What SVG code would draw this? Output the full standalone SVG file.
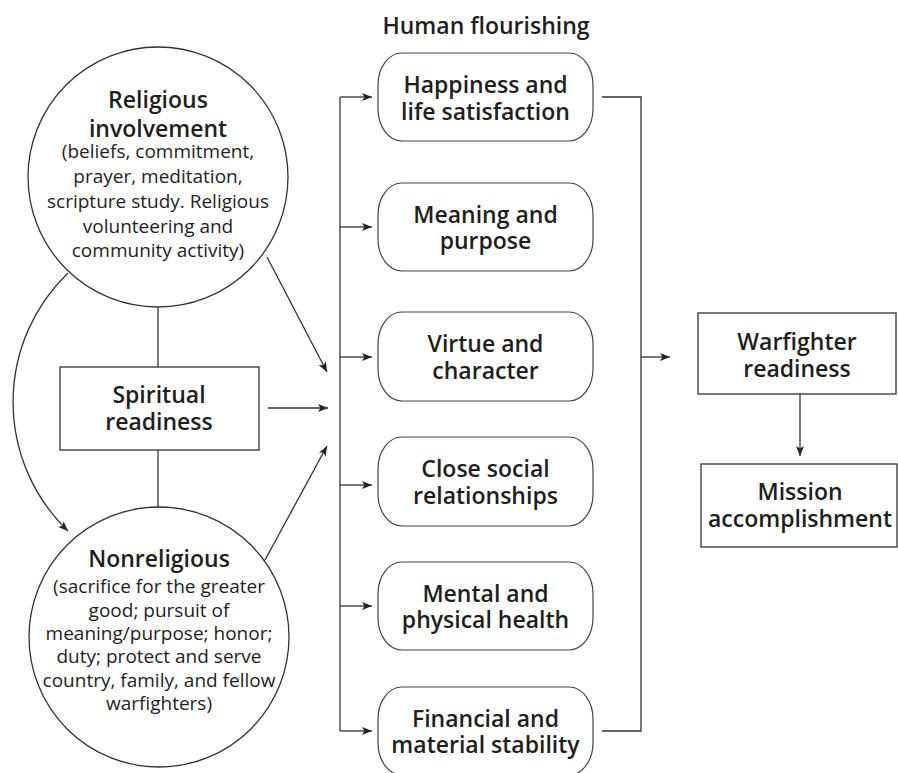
<svg xmlns="http://www.w3.org/2000/svg" width="898" height="773" viewBox="0 0 898 773">
<style>
.shape{fill:#fff;stroke:#333;stroke-width:1.3}
.pill{fill:#fff;stroke:#444;stroke-width:1.2}
.ln{fill:none;stroke:#333;stroke-width:1.3}
.arr{fill:none;stroke:#333;stroke-width:1.3;marker-end:url(#ah)}
text{font-family:"Open Sans","Noto Sans","DejaVu Sans",sans-serif;fill:#1e1e1e;text-anchor:middle}
.t{font-size:23px;font-weight:600}
.s{font-size:19px;font-weight:400}
.h{font-size:23px;font-weight:600}
</style>
<defs>
<marker id="ah" viewBox="0 0 10 8" refX="10" refY="4" markerWidth="10" markerHeight="8" markerUnits="userSpaceOnUse" orient="auto">
<path d="M0,0 L10,4 L0,8 L2.5,4 z" fill="#222"/>
</marker>
</defs>
<rect width="898" height="773" fill="#fff"/>
<text class="h" x="486" y="34">Human flourishing</text>
<g id="connectors">
<path class="ln" d="M158,307 V367"/>
<path class="ln" d="M158,450 V507"/>
<path class="arr" d="M68,273 A179,179 0 0 0 68,531"/>
<path class="arr" d="M267,257 L327,372"/>
<path class="arr" d="M268,408 L328,408"/>
<path class="arr" d="M265,560 L327,446"/>
<path class="ln" d="M340,97 V731"/>
<path class="arr" d="M340,97 H372"/>
<path class="arr" d="M340,227 H372"/>
<path class="arr" d="M340,357 H372"/>
<path class="arr" d="M340,485 H372"/>
<path class="arr" d="M340,606 H372"/>
<path class="arr" d="M340,731 H372"/>
<path class="ln" d="M602,97 H641 V731 H602"/>
<path class="arr" d="M641,357 H670"/>
<path class="arr" d="M800,394 V456"/>
</g>
<g id="religious">
<circle class="shape" cx="158" cy="177" r="130"/>
<text class="t" x="158" y="108">Religious</text>
<text class="t" x="158" y="137">involvement</text>
<text class="s" x="158" y="158">(beliefs, commitment,</text>
<text class="s" x="158" y="183">prayer, meditation,</text>
<text class="s" x="158" y="208">scripture study. Religious</text>
<text class="s" x="158" y="233">volunteering and</text>
<text class="s" x="158" y="257">community activity)</text>
</g>
<g id="spiritual">
<rect class="shape" x="60" y="367" width="199" height="83"/>
<text class="t" x="159" y="403">Spiritual</text>
<text class="t" x="159" y="430">readiness</text>
</g>
<g id="nonreligious">
<circle class="shape" cx="159" cy="637" r="130"/>
<text class="t" x="159" y="567">Nonreligious</text>
<text class="s" x="159" y="593">(sacrifice for the greater</text>
<text class="s" x="159" y="617">good; pursuit of</text>
<text class="s" x="159" y="640">meaning/purpose; honor;</text>
<text class="s" x="159" y="663">duty; protect and serve</text>
<text class="s" x="159" y="687">country, family, and fellow</text>
<text class="s" x="159" y="710">warfighters)</text>
</g>
<g id="happiness">
<rect class="pill" x="378" y="53" width="215" height="88" rx="24" ry="32"/>
<text class="t" x="485.5" y="93">Happiness and</text>
<text class="t" x="485.5" y="120">life satisfaction</text>
</g>
<g id="meaning">
<rect class="pill" x="378" y="183" width="215" height="88" rx="24" ry="32"/>
<text class="t" x="485.5" y="223">Meaning and</text>
<text class="t" x="485.5" y="249">purpose</text>
</g>
<g id="virtue">
<rect class="pill" x="378" y="312" width="215" height="89" rx="24" ry="32"/>
<text class="t" x="485.5" y="352">Virtue and</text>
<text class="t" x="485.5" y="379">character</text>
</g>
<g id="social">
<rect class="pill" x="378" y="437" width="215" height="89" rx="24" ry="32"/>
<text class="t" x="485.5" y="477">Close social</text>
<text class="t" x="485.5" y="504">relationships</text>
</g>
<g id="health">
<rect class="pill" x="378" y="562" width="215" height="88" rx="24" ry="32"/>
<text class="t" x="485.5" y="602">Mental and</text>
<text class="t" x="485.5" y="628">physical health</text>
</g>
<g id="financial">
<rect class="pill" x="378" y="687" width="215" height="88" rx="24" ry="32"/>
<text class="t" x="485.5" y="727">Financial and</text>
<text class="t" x="485.5" y="753">material stability</text>
</g>
<g id="warfighter">
<rect class="shape" x="698" y="313" width="198" height="81"/>
<text class="t" x="797" y="350">Warfighter</text>
<text class="t" x="797" y="377">readiness</text>
</g>
<g id="mission">
<rect class="shape" x="701" y="464" width="196" height="83"/>
<text class="t" x="800" y="500">Mission</text>
<text class="t" x="800" y="527">accomplishment</text>
</g>
</svg>
